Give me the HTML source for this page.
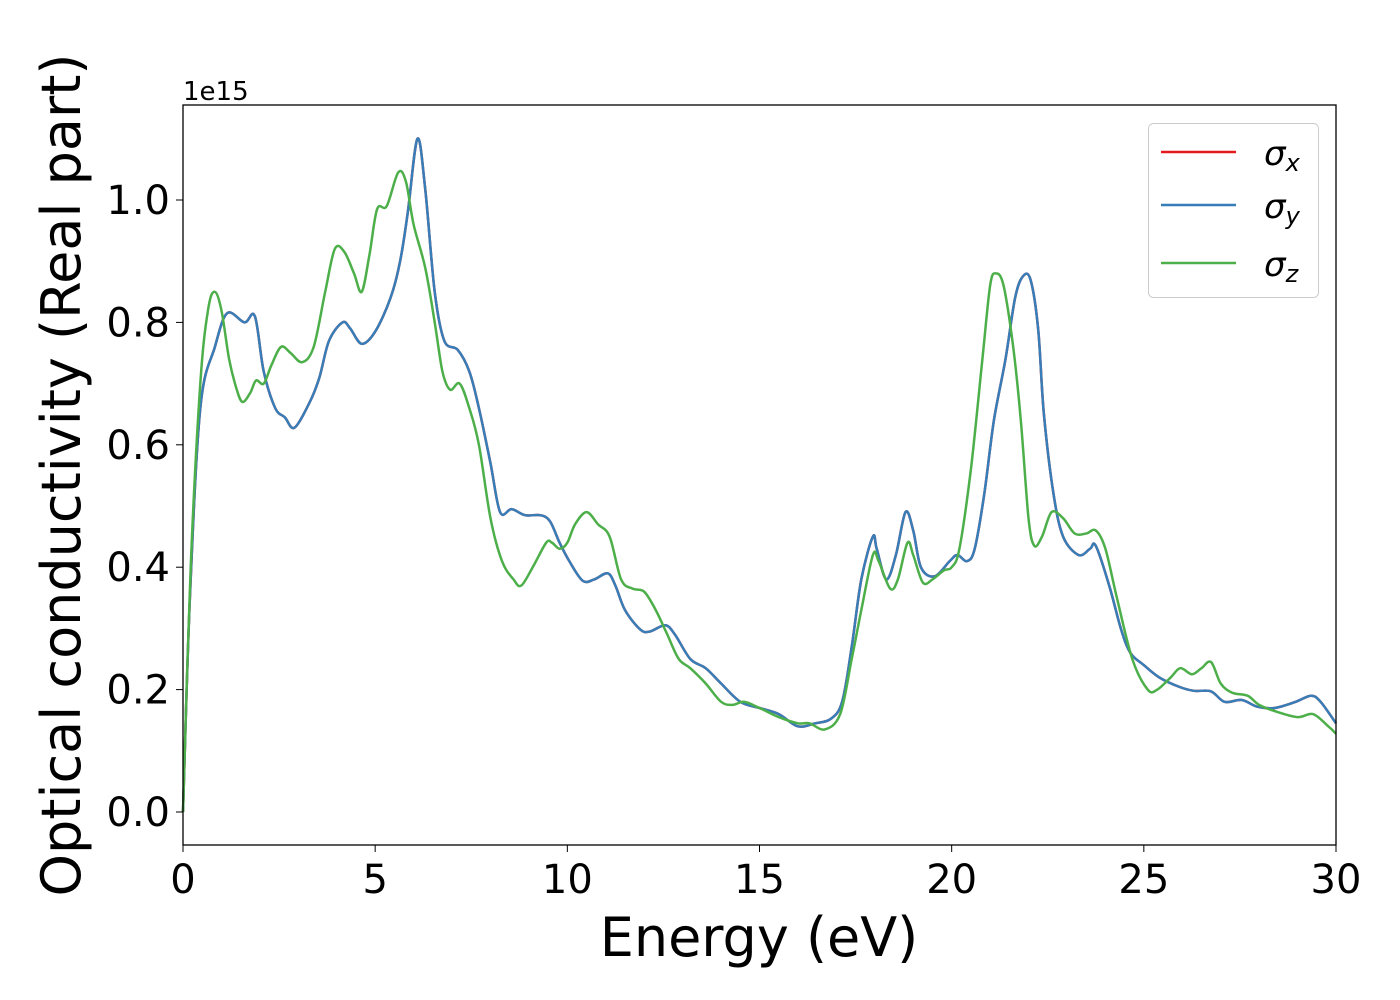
<!DOCTYPE html>
<html><head><meta charset="utf-8">
<style>
html,body{margin:0;padding:0;background:#fff;}
svg{display:block;font-family:"DejaVu Sans","Liberation Sans",sans-serif;}
</style></head>
<body>
<svg id="chart" width="1400" height="1000" viewBox="0 0 1400 1000" xmlns="http://www.w3.org/2000/svg">
<rect width="1400" height="1000" fill="#fff"/>
<g id="series"></g>
<rect x="183" y="105" width="1153" height="740" fill="none" stroke="#000" stroke-width="1.3"/>
<g id="xticks"></g>
<g id="yticks"></g>
<text x="183" y="100" font-size="26">1e15</text>
<text x="759" y="956" font-size="54" text-anchor="middle">Energy (eV)</text>
<text transform="translate(80,475) rotate(-90)" font-size="54" text-anchor="middle">Optical conductivity (Real part)</text>
<g>
<rect x="1148.5" y="123.5" width="170" height="174" rx="5" fill="#fff" fill-opacity="0.8" stroke="#ccc" stroke-width="1"/>
<g><line x1="1161" y1="152" x2="1236" y2="152" stroke="#e41a1c" stroke-width="2.5"/><text x="1264" y="165" font-size="34" font-style="italic">σ<tspan font-size="24" dy="6">x</tspan></text></g>
<g><line x1="1161" y1="205" x2="1236" y2="205" stroke="#377eb8" stroke-width="2.5"/><text x="1264" y="218" font-size="34" font-style="italic">σ<tspan font-size="24" dy="6">y</tspan></text></g>
<g><line x1="1161" y1="263" x2="1236" y2="263" stroke="#4daf4a" stroke-width="2.5"/><text x="1264" y="276" font-size="34" font-style="italic">σ<tspan font-size="24" dy="6">z</tspan></text></g>
</g>
</svg>
<script>
const xTickLabels = ["0","5","10","15","20","25","30"];
const xTickValues = [0,5,10,15,20,25,30];
const yTickLabels = ["0.0","0.2","0.4","0.6","0.8","1.0"];
const yTickValues = [0,0.2,0.4,0.6,0.8,1.0];
const energyXY = [0,0.18,0.45,0.83,1.15,1.6,1.87,2.1,2.4,2.65,2.9,3.3,3.55,3.8,4.15,4.35,4.65,5.0,5.4,5.65,5.85,6.1,6.3,6.55,6.8,7.15,7.45,7.7,8.0,8.25,8.55,8.9,9.3,9.55,9.8,10.05,10.4,10.7,11.05,11.25,11.5,11.9,12.15,12.55,12.8,13.2,13.6,14.0,14.5,15.0,15.5,16.0,16.45,16.85,17.15,17.4,17.65,17.95,18.05,18.3,18.55,18.8,19.0,19.2,19.55,19.95,20.15,20.4,20.6,20.85,21.1,21.4,21.65,21.85,22.05,22.25,22.4,22.65,22.9,23.3,23.6,23.75,24.1,24.4,24.65,25.0,25.4,25.9,26.3,26.75,27.1,27.55,27.95,28.4,28.95,29.35,29.6,30];
const sigmaY = [0,0.35,0.66,0.76,0.815,0.80,0.81,0.72,0.66,0.645,0.628,0.67,0.71,0.77,0.80,0.79,0.765,0.785,0.84,0.90,0.98,1.10,1.02,0.85,0.77,0.755,0.72,0.66,0.57,0.49,0.495,0.485,0.485,0.475,0.44,0.41,0.378,0.38,0.39,0.37,0.33,0.298,0.295,0.305,0.29,0.25,0.235,0.21,0.18,0.17,0.16,0.14,0.145,0.152,0.18,0.27,0.38,0.45,0.43,0.38,0.42,0.49,0.46,0.40,0.385,0.41,0.42,0.41,0.43,0.52,0.64,0.74,0.84,0.875,0.87,0.79,0.65,0.52,0.45,0.42,0.43,0.435,0.37,0.30,0.26,0.24,0.22,0.205,0.198,0.197,0.18,0.183,0.172,0.17,0.18,0.19,0.18,0.145];
const sigmaX = sigmaY.slice();
const energyZ = [0,0.2,0.45,0.65,0.82,1.0,1.2,1.4,1.55,1.75,1.9,2.1,2.3,2.55,2.8,3.1,3.4,3.7,3.95,4.2,4.45,4.65,4.85,5.05,5.3,5.6,5.8,6.0,6.3,6.55,6.75,6.95,7.2,7.45,7.7,8.0,8.3,8.6,8.8,9.1,9.45,9.6,9.8,10.0,10.2,10.5,10.8,11.1,11.4,11.7,12.0,12.3,12.6,12.9,13.2,13.6,14.0,14.3,14.6,15.0,15.5,16.0,16.3,16.7,17.1,17.4,17.65,17.95,18.1,18.4,18.6,18.85,19.0,19.25,19.5,19.8,20.0,20.2,20.5,20.8,21.0,21.15,21.35,21.6,21.8,22.0,22.15,22.35,22.6,22.9,23.2,23.5,23.75,24.0,24.3,24.7,25.1,25.35,25.7,25.95,26.25,26.5,26.75,27.0,27.3,27.7,28.0,28.4,29.0,29.4,29.8,30];
const sigmaZ = [0,0.4,0.7,0.82,0.85,0.82,0.74,0.69,0.67,0.685,0.705,0.70,0.73,0.76,0.75,0.735,0.76,0.85,0.92,0.915,0.88,0.85,0.91,0.985,0.99,1.045,1.03,0.96,0.89,0.80,0.72,0.69,0.70,0.66,0.60,0.48,0.41,0.38,0.37,0.40,0.44,0.44,0.43,0.44,0.47,0.49,0.47,0.45,0.38,0.365,0.36,0.33,0.29,0.25,0.235,0.21,0.18,0.175,0.18,0.17,0.155,0.145,0.145,0.135,0.16,0.25,0.33,0.42,0.41,0.365,0.38,0.44,0.42,0.375,0.38,0.395,0.40,0.43,0.56,0.74,0.86,0.88,0.86,0.76,0.64,0.48,0.435,0.45,0.49,0.48,0.455,0.455,0.46,0.43,0.35,0.25,0.2,0.2,0.22,0.235,0.225,0.235,0.245,0.21,0.195,0.19,0.175,0.165,0.155,0.16,0.14,0.128];

const X0=183,X1=1336,Y0=812,YPER=612;
const xs = v => X0 + (v/30)*(X1-X0);
const ys = v => Y0 - v*YPER;
const NS="http://www.w3.org/2000/svg";

function pathFrom(xv,yv){
  const p = xv.map((x,i)=>[xs(x),ys(yv[i])]);
  let d = "M"+p[0][0].toFixed(1)+","+p[0][1].toFixed(1);
  for(let i=0;i<p.length-1;i++){
    const p0=p[Math.max(0,i-1)],p1=p[i],p2=p[i+1],p3=p[Math.min(p.length-1,i+2)];
    const c1=[p1[0]+(p2[0]-p0[0])/6,p1[1]+(p2[1]-p0[1])/6];
    const c2=[p2[0]-(p3[0]-p1[0])/6,p2[1]-(p3[1]-p1[1])/6];
    d+=" C"+c1[0].toFixed(1)+","+c1[1].toFixed(1)+" "+c2[0].toFixed(1)+","+c2[1].toFixed(1)+" "+p2[0].toFixed(1)+","+p2[1].toFixed(1);
  }
  return d;
}
const g=document.getElementById("series");
function addLine(xv,yv,color,name){
  const el=document.createElementNS(NS,"path");
  el.setAttribute("d",pathFrom(xv,yv));
  el.setAttribute("fill","none");
  el.setAttribute("stroke",color);
  el.setAttribute("stroke-width","2.5");
  
  
  g.appendChild(el);
}
addLine(energyXY,sigmaX,"#e41a1c","sigma-x-line");
addLine(energyXY,sigmaY,"#377eb8","sigma-y-line");
addLine(energyZ,sigmaZ,"#4daf4a","sigma-z-line");

const xt=document.getElementById("xticks");
xTickValues.forEach((v,i)=>{
  const t=document.createElementNS(NS,"line");
  t.setAttribute("x1",xs(v));t.setAttribute("x2",xs(v));
  t.setAttribute("y1",845);t.setAttribute("y2",852);
  t.setAttribute("stroke","#000");
  
  
  xt.appendChild(t);
  const l=document.createElementNS(NS,"text");
  l.setAttribute("x",xs(v));l.setAttribute("y",893);
  l.setAttribute("font-size","40");l.setAttribute("text-anchor","middle");
  l.textContent=xTickLabels[i];
  
  
  xt.appendChild(l);
});
const yt=document.getElementById("yticks");
yTickValues.forEach((v,i)=>{
  const t=document.createElementNS(NS,"line");
  t.setAttribute("x1",176);t.setAttribute("x2",183);
  t.setAttribute("y1",ys(v));t.setAttribute("y2",ys(v));
  t.setAttribute("stroke","#000");
  
  
  yt.appendChild(t);
  const l=document.createElementNS(NS,"text");
  l.setAttribute("x",170);l.setAttribute("y",ys(v)+14);
  l.setAttribute("font-size","40");l.setAttribute("text-anchor","end");
  l.textContent=yTickLabels[i];
  
  
  yt.appendChild(l);
});
</script>
</body></html>
